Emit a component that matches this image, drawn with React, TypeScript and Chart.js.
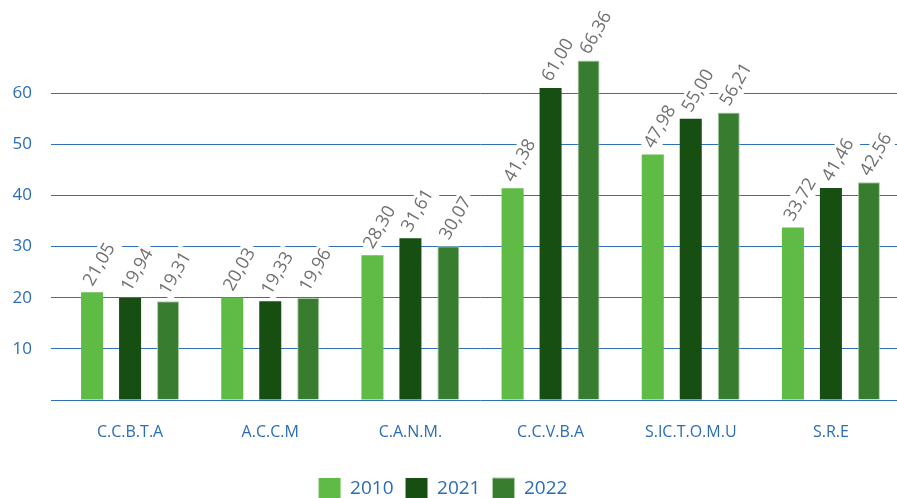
import React, { useEffect, useRef } from "react";
import { Chart, registerables } from "chart.js";

Chart.register(...registerables);

const categories = ["C.C.B.T.A", "A.C.C.M", "C.A.N.M.", "C.C.V.B.A", "S.IC.T.O.M.U", "S.R.E"];
const seriesLabels = ["2010", "2021", "2022"];
const values2010 = [21.05, 20.03, 28.3, 41.38, 47.98, 33.72];
const values2021 = [19.94, 19.33, 31.61, 61.0, 55.0, 41.46];
const values2022 = [19.31, 19.96, 30.07, 66.36, 56.21, 42.56];
const yTicks = [10, 20, 30, 40, 50, 60];

const FONT = "'Open Sans', 'Noto Sans', sans-serif";
const BLUE = "#2a6db5";
const ANG = (-60 * Math.PI) / 180;

function labelItems(chart: any) {
  const items: { x: number; y: number; t: string }[] = [];
  chart.data.datasets.forEach((ds: any, di: number) => {
    const meta = chart.getDatasetMeta(di);
    meta.data.forEach((bar: any, i: number) => {
      const v = ds.data[i] as number;
      items.push({ x: bar.x - 4, y: bar.y - 8, t: v.toFixed(2).replace(".", ",") });
    });
  });
  return items;
}

const valueLabels = {
  id: "valueLabels",
  beforeDatasetsDraw(chart: any) {
    const ctx = chart.ctx;
    ctx.save();
    ctx.font = `18px ${FONT}`;
    labelItems(chart).forEach((it) => {
      const w = ctx.measureText(it.t).width;
      ctx.save();
      ctx.translate(it.x, it.y);
      ctx.rotate(ANG);
      ctx.fillStyle = "#ffffff";
      ctx.fillRect(-2, -11, w + 6, 22);
      ctx.restore();
    });
    ctx.restore();
  },
  afterDatasetsDraw(chart: any) {
    const ctx = chart.ctx;
    ctx.save();
    ctx.font = `18px ${FONT}`;
    labelItems(chart).forEach((it) => {
      ctx.save();
      ctx.translate(it.x, it.y);
      ctx.rotate(ANG);
      ctx.fillStyle = "#707070";
      ctx.textAlign = "left";
      ctx.textBaseline = "middle";
      ctx.fillText(it.t, 0, 0);
      ctx.restore();
    });
    ctx.restore();
  },
};

export default function App() {
  const ref = useRef<HTMLCanvasElement | null>(null);
  useEffect(() => {
    if (!ref.current) return;
    const chart = new Chart(ref.current, {
      type: "bar",
      data: {
        labels: categories,
        datasets: [
          { label: seriesLabels[0], data: values2010, backgroundColor: "#5fba46", borderWidth: 0 },
          { label: seriesLabels[1], data: values2021, backgroundColor: "#174f12", borderWidth: 0 },
          {
            label: seriesLabels[2],
            data: values2022,
            backgroundColor: "#387d2f",
            borderColor: "#a9cca5",
            borderWidth: 1,
          },
        ],
      },
      options: {
        responsive: false,
        animation: false,
        layout: { padding: { top: 42, left: 0, right: 0, bottom: 0 } },
        datasets: { bar: { categoryPercentage: 0.813, barPercentage: 0.58 } },
        plugins: {
          legend: {
            position: "bottom",
            labels: {
              boxWidth: 22,
              boxHeight: 22,
              padding: 12,
              color: BLUE,
              font: { family: FONT, size: 19 },
            },
          },
          tooltip: { enabled: false },
          title: { display: false },
        },
        scales: {
          x: {
            grid: { display: false },
            border: { display: false },
            ticks: { color: BLUE, font: { family: FONT, size: 16 }, padding: 15 },
            afterFit: (s: any) => {
              s.height = 66;
            },
          },
          y: {
            min: 0,
            max: 70,
            border: { display: false },
            afterBuildTicks: (s: any) => {
              s.ticks = [0, ...yTicks, 70].map((v) => ({ value: v }));
            },
            ticks: {
              color: BLUE,
              font: { family: FONT, size: 17 },
              padding: 19,
              callback: (v: any) => (yTicks.includes(Number(v)) ? String(v) : ""),
            },
            grid: {
              tickLength: 9,
              lineWidth: 1,
              color: (c: any) => (c.tick && c.tick.value === 70 ? "rgba(0,0,0,0)" : "#2f6fb8"),
            },
            afterFit: (s: any) => {
              s.width = 75;
            },
          },
        },
      },
      plugins: [valueLabels],
    });
    return () => chart.destroy();
  }, []);
  return (
    <div
      style={{ position: "fixed", left: 0, top: 0, width: 897, height: 498, overflow: "hidden", background: "#fff" }}
    >
      <canvas ref={ref} width={916} height={510} style={{ position: "absolute", left: -15, top: 0 }} />
    </div>
  );
}
